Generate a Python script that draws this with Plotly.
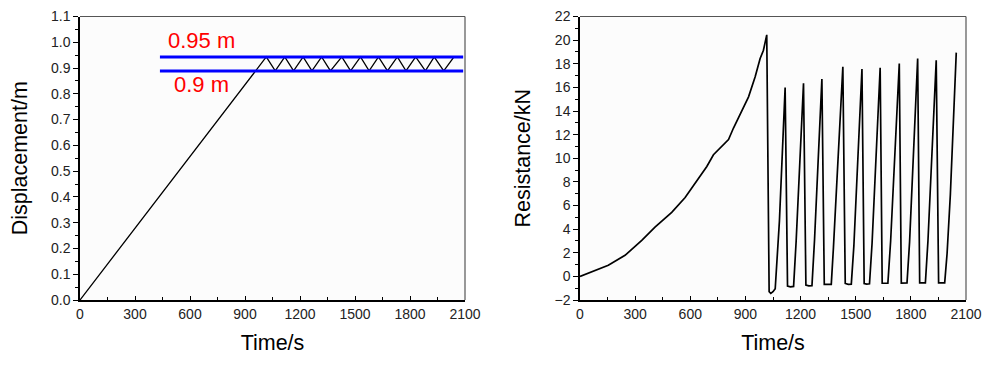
import plotly.graph_objects as go

# ---------------- data ----------------
disp_time = [0, 1016, 1065, 1117, 1165, 1217, 1265, 1318, 1366, 1428, 1476, 1530,
             1577, 1628, 1677, 1731, 1778, 1831, 1884, 1932, 1984, 2040]
disp_value = [0.0, 0.943, 0.889, 0.943, 0.889, 0.943, 0.889, 0.943, 0.889, 0.943, 0.889,
              0.943, 0.889, 0.943, 0.889, 0.943, 0.889, 0.943, 0.889, 0.943, 0.889, 0.943]

limit_time = [436, 2090]
upper_limit = [0.943, 0.943]
lower_limit = [0.889, 0.889]
upper_label = "0.95 m"
lower_label = "0.9 m"

res_time = [0, 82, 154, 245, 336, 408, 499, 572, 635, 690, 726, 753, 780, 808, 835, 880,
            917, 953, 980, 998, 1016,
            1029, 1038, 1050, 1062, 1085, 1116,
            1129, 1145, 1162, 1176, 1216,
            1229, 1245, 1262, 1276, 1316,
            1329, 1348, 1367, 1379, 1430,
            1443, 1460, 1476, 1490, 1534,
            1546, 1560, 1575, 1589, 1633,
            1644, 1660, 1675, 1690, 1737,
            1748, 1763, 1779, 1793, 1837,
            1848, 1865, 1879, 1893, 1938,
            1951, 1967, 1984, 1997, 2015, 2047]
res_value = [0.0, 0.52, 0.94, 1.78, 3.04, 4.16, 5.42, 6.68, 8.05, 9.3, 10.3, 10.74, 11.1, 11.58, 12.56, 13.96,
             15.2, 16.9, 18.44, 19.14, 20.45,
             -1.3, -1.44, -1.3, -1.05, 4.7, 15.98,
             -0.82, -0.88, -0.85, 3.0, 16.34,
             -0.74, -0.8, -0.78, 3.1, 16.7,
             -0.68, -0.7, -0.68, 2.48, 17.74,
             -0.6, -0.68, -0.66, 2.6, 17.55,
             -0.6, -0.65, -0.63, 2.8, 17.66,
             -0.57, -0.6, -0.58, 3.0, 18.02,
             -0.57, -0.58, -0.56, 2.9, 18.44,
             -0.55, -0.56, -0.55, 3.0, 18.3,
             -0.55, -0.56, -0.55, 1.92, 6.96, 18.94]

x_title = "Time/s"
y_title_left = "Displacement/m"
y_title_right = "Resistance/kN"

# ---------------- figure ----------------
FONT = "Liberation Sans, Arial, sans-serif"
W, H = 975, 352          # page body has an 8px margin
OFF = 8

def fx(px):
    return (px - OFF) / W

def fy(py):
    return (H - (py - OFF)) / H

fig = go.Figure()

fig.add_trace(go.Scatter(x=disp_time, y=disp_value, mode="lines",
                         line=dict(color="black", width=1.3), xaxis="x", yaxis="y",
                         showlegend=False, hoverinfo="skip"))
fig.add_trace(go.Scatter(x=limit_time, y=upper_limit, mode="lines",
                         line=dict(color="#0000ff", width=3), xaxis="x", yaxis="y",
                         showlegend=False))
fig.add_trace(go.Scatter(x=limit_time, y=lower_limit, mode="lines",
                         line=dict(color="#0000ff", width=3), xaxis="x", yaxis="y",
                         showlegend=False))
fig.add_trace(go.Scatter(x=res_time, y=res_value, mode="lines",
                         line=dict(color="black", width=1.7), xaxis="x2", yaxis="y2",
                         showlegend=False))

tickfont = dict(family=FONT, size=14, color="#222")
titlefont = dict(family=FONT, size=21.5, color="black")

def xaxis(domain, anchor):
    return dict(domain=domain, anchor=anchor, range=[0, 2100], dtick=300, tick0=0,
                automargin=False, ticklabeloverflow="allow",
                showgrid=False, zeroline=False, showline=True, linecolor="black", linewidth=1.5,
                ticks="inside", ticklen=4, tickwidth=1.2, tickcolor="black",
                minor=dict(dtick=150, ticks="inside", ticklen=3, tickwidth=1, tickcolor="black"),
                tickfont=tickfont, title=dict(text=x_title, font=titlefont, standoff=14))

def yaxis(domain, anchor, rng, dtick, mdtick, fmt, title):
    return dict(domain=domain, anchor=anchor, range=rng, dtick=dtick, tick0=0,
                automargin=False, ticklabeloverflow="allow",
                showgrid=False, zeroline=False, showline=True, linecolor="black", linewidth=1.5,
                ticks="outside", ticklen=5, tickwidth=1.2, tickcolor="black",
                minor=dict(dtick=mdtick, ticks="outside", ticklen=3, tickwidth=1, tickcolor="black"),
                tickformat=fmt, tickfont=tickfont,
                title=dict(text=title, font=titlefont, standoff=18))

ydom = [fy(300), fy(16.5)]
fig.update_layout(
    width=W, height=H,
    margin=dict(l=0, r=0, t=0, b=0),
    paper_bgcolor="white", plot_bgcolor="#fcfcfc",
    xaxis=xaxis([fx(80), fx(465)], "y"),
    yaxis=yaxis(ydom, "x", [0, 1.1], 0.1, 0.05, ".1f", y_title_left),
    xaxis2=xaxis([fx(580), fx(966)], "y2"),
    yaxis2=yaxis(ydom, "x2", [-2, 22], 2, 1, "d", y_title_right),
)

# top/right frame lines
for xr, yr in (("x domain", "y domain"), ("x2 domain", "y2 domain")):
    fig.add_shape(type="line", xref=xr, yref=yr, x0=0, x1=1, y0=1, y1=1,
                  line=dict(color="#555", width=1.2))
    fig.add_shape(type="line", xref=xr, yref=yr, x0=1, x1=1, y0=0, y1=1,
                  line=dict(color="#555", width=1.2))

fig.add_annotation(x=662, y=1.008, xref="x", yref="y", text=upper_label, showarrow=False,
                   font=dict(family=FONT, size=22, color="#ff0000"))
fig.add_annotation(x=660, y=0.835, xref="x", yref="y", text=lower_label, showarrow=False,
                   font=dict(family=FONT, size=22, color="#ff0000"))

fig.write_html("out.html")
